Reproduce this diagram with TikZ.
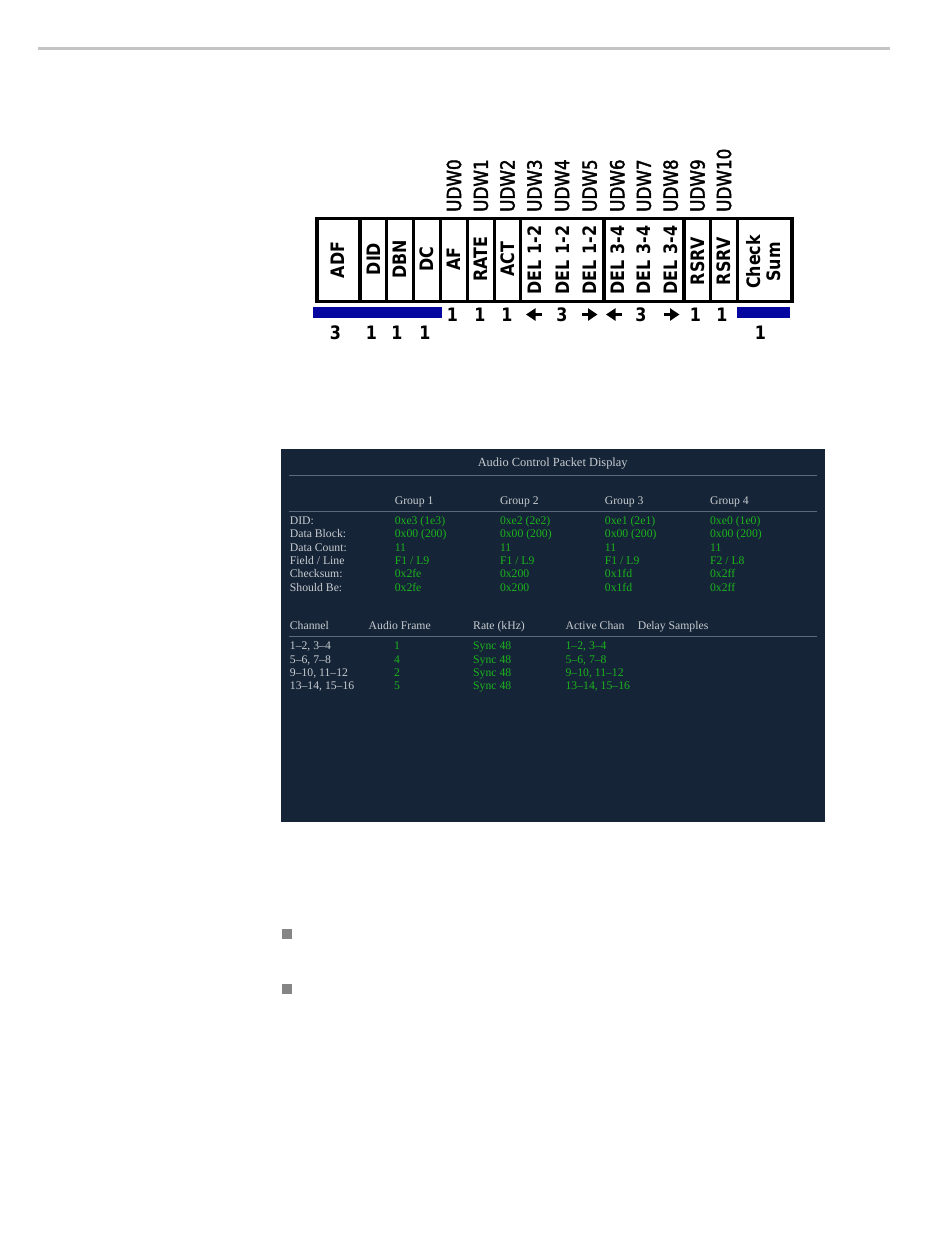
\documentclass[tikz,border=0pt]{standalone}
\usepackage{fontspec}
\setmainfont{Liberation Serif}
\newfontfamily\pkfont[FakeStretch=0.86]{DejaVu Sans}
\newfontfamily\udwfont[FakeStretch=0.86,FakeBold=2]{DejaVu Sans}
\usetikzlibrary{arrows.meta}
\definecolor{rulegray}{HTML}{C4C4C4}
\definecolor{pkblue}{HTML}{0505A0}
\definecolor{scrbg}{HTML}{152437}
\definecolor{scrline}{HTML}{5E6A7A}
\definecolor{scrtxt}{HTML}{C8CCD0}
\definecolor{scrgreen}{HTML}{1CB41C}
\definecolor{bulletgray}{HTML}{858585}
\begin{document}
\begin{tikzpicture}[x=1pt,y=-1pt,
  cellbox/.style={draw, line width=3.5pt},
  divline/.style={line width=3.5pt},
  lbl/.style={font=\pkfont\bfseries\fontsize{18.5}{20}\selectfont, rotate=90, inner sep=0, anchor=center, align=center},
  udw/.style={font=\udwfont\fontsize{19.5}{20}\selectfont, rotate=90, inner sep=0, anchor=west},
  num/.style={font=\pkfont\bfseries\fontsize{18.5}{20}\selectfont, inner sep=0},
  arr/.style={line width=3.5pt, -{Triangle[length=9.5pt,width=12pt]}},
  bluebar/.style={fill=pkblue},
  scr/.style={font=\fontsize{11.7}{13}\selectfont, inner sep=0, anchor=west, text height=7.8pt, text depth=0pt},
  scrg/.style={scr, text=scrgreen},
  scrw/.style={scr, text=scrtxt},
  scrrule/.style={draw=scrline, line width=1pt},
  bulletsq/.style={fill=bulletgray}
]
\useasboundingbox (0,0) rectangle (950,1254);
\fill[white] (0,0) rectangle (950,1254);

% top rule
\coordinate (r1) at (38,48);
\coordinate (r2) at (890,48);
\draw[rulegray, line width=3pt] (r1) -- (r2);

% packet frame
\node[cellbox, minimum width=475pt, minimum height=83pt, inner sep=0, anchor=north west] (frame) at (315,216.8) {};
\foreach \x [count=\i] in {360,386.7,413.3,440.7,467.3,494.3,520.7,604,684,710.7,737.3}{
  \coordinate (dt\i) at (\x,216.8);
  \coordinate (db\i) at (\x,299.8);
  \draw[divline] (dt\i) -- (db\i);
}

% cell labels
\node[lbl] (adf) at (337.5,260) {ADF};
\node[lbl] (did) at (373.5,259) {DID};
\node[lbl] (dbn) at (400,259) {DBN};
\node[lbl] (dc) at (427,259) {DC};
\node[lbl] (af) at (454,259) {AF};
\node[lbl] (rate) at (481,259) {RATE};
\node[lbl] (act) at (507.5,259) {ACT};
\node[lbl] (del1) at (534.5,260) {DEL 1-2};
\node[lbl] (del2) at (562.2,260) {DEL 1-2};
\node[lbl] (del3) at (589.8,260) {DEL 1-2};
\node[lbl] (del4) at (617.3,260) {DEL 3-4};
\node[lbl] (del5) at (644,260) {DEL 3-4};
\node[lbl] (del6) at (670.7,260) {DEL 3-4};
\node[lbl] (rs1) at (697.5,261) {RSRV};
\node[lbl] (rs2) at (724,261) {RSRV};
\node[lbl] (cks) at (763.5,262) {Check\\Sum};

% UDW labels
\foreach \x/\t [count=\i] in {454/UDW0,481/UDW1,507.5/UDW2,534.5/UDW3,562.2/UDW4,589.8/UDW5,617.3/UDW6,644/UDW7,670.7/UDW8,697.5/UDW9,724/UDW10}{
  \node[udw] (u\i) at (\x,212) {\t};
}

% blue bars
\fill[bluebar] (313.3,306.7) rectangle (441.7,318.3);
\fill[bluebar] (737.3,306.7) rectangle (789.5,318.3);

% numbers row 1
\node[num] (n1) at (452.5,315) {1};
\node[num] (n2) at (480,315) {1};
\node[num] (n3) at (507,315) {1};
\node[num] (n4) at (562,315) {3};
\node[num] (n5) at (641,315) {3};
\node[num] (n6) at (695.5,315) {1};
\node[num] (n7) at (722,315) {1};
% numbers row 2
\node[num] (m1) at (335.5,333) {3};
\node[num] (m2) at (371.5,333) {1};
\node[num] (m3) at (397,333) {1};
\node[num] (m4) at (425,333) {1};
\node[num] (m5) at (760.5,333) {1};

% arrows
\coordinate (a1s) at (541.5,314.5); \coordinate (a1e) at (526,314.5);
\coordinate (a2s) at (582,314.5); \coordinate (a2e) at (597.5,314.5);
\coordinate (a3s) at (621.5,314.5); \coordinate (a3e) at (606,314.5);
\coordinate (a4s) at (664,314.5); \coordinate (a4e) at (679.5,314.5);
\draw[arr] (a1s) -- (a1e);
\draw[arr] (a2s) -- (a2e);
\draw[arr] (a3s) -- (a3e);
\draw[arr] (a4s) -- (a4e);

% screen
\fill[scrbg] (281,449) rectangle (825,822);
\node[scrw, anchor=center, font=\fontsize{12.4}{13}\selectfont] (title) at (552.7,462.5) {Audio Control Packet Display};
\coordinate (l1a) at (289,475); \coordinate (l1b) at (817,475);
\draw[scrrule] (l1a) -- (l1b);

\node[scrw] (gh1) at (394.6,500.5) {Group 1};
\node[scrw] (gh2) at (499.8,500.5) {Group 2};
\node[scrw] (gh3) at (604.7,500.5) {Group 3};
\node[scrw] (gh4) at (709.9,500.5) {Group 4};
\coordinate (l2a) at (289,511); \coordinate (l2b) at (817,511);
\draw[scrrule] (l2a) -- (l2b);

\foreach \y/\t [count=\i] in {520.5/{DID:},534/{Data Block:},547.3/{Data Count:},560.7/{Field / Line},574/{Checksum:},587.3/{Should Be:}}{
  \node[scrw] (rl\i) at (289.7,\y) {\t};
}
\foreach \y/\a/\b/\c/\d [count=\i] in {
  520.5/{0xe3 (1e3)}/{0xe2 (2e2)}/{0xe1 (2e1)}/{0xe0 (1e0)},
  534/{0x00 (200)}/{0x00 (200)}/{0x00 (200)}/{0x00 (200)},
  547.3/{11}/{11}/{11}/{11},
  560.7/{F1 / L9}/{F1 / L9}/{F1 / L9}/{F2 / L8},
  574/{0x2fe}/{0x200}/{0x1fd}/{0x2ff},
  587.3/{0x2fe}/{0x200}/{0x1fd}/{0x2ff}}{
  \node[scrg] (va\i) at (394.6,\y) {\a};
  \node[scrg] (vb\i) at (499.8,\y) {\b};
  \node[scrg] (vc\i) at (604.7,\y) {\c};
  \node[scrg] (vd\i) at (709.9,\y) {\d};
}

\node[scrw] (ch1) at (289.7,626) {Channel};
\node[scrw] (ch2) at (368.5,626) {Audio Frame};
\node[scrw] (ch3) at (473,626) {Rate (kHz)};
\node[scrw] (ch4) at (565.4,626) {Active Chan};
\node[scrw] (ch5) at (637.6,626) {Delay Samples};
\coordinate (l3a) at (289,636); \coordinate (l3b) at (817,636);
\draw[scrrule] (l3a) -- (l3b);

\foreach \y/\c/\f [count=\i] in {645.8/{1--2, 3--4}/1, 659.2/{5--6, 7--8}/4, 672.5/{9--10, 11--12}/2, 686/{13--14, 15--16}/5}{
  \node[scrw] (cn\i) at (289.7,\y) {\c};
  \node[scrg] (af\i) at (394,\y) {\f};
  \node[scrg] (rt\i) at (473,\y) {Sync 48};
  \node[scrg] (ac\i) at (565.4,\y) {\c};
}

% bullets
\fill[bulletsq] (282,929) rectangle (292,939);
\fill[bulletsq] (282,984) rectangle (292,994);
\end{tikzpicture}
\end{document}
